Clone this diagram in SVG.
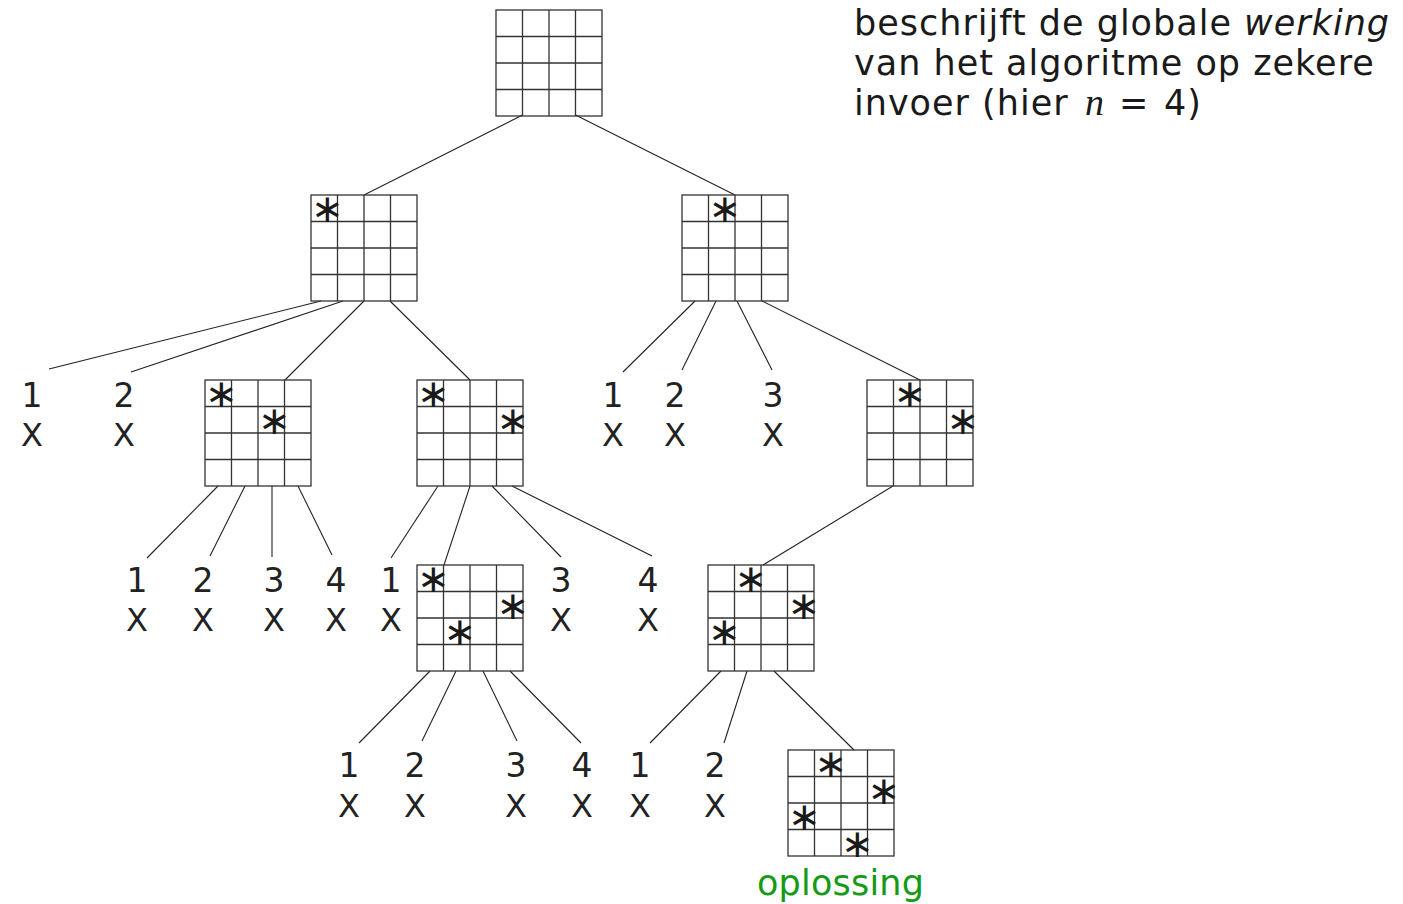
<svg xmlns="http://www.w3.org/2000/svg" xmlns:xlink="http://www.w3.org/1999/xlink" width="1403" height="904" viewBox="0 0 1403 904">
  <style>
    .grid { fill: none; stroke: #333; stroke-width: 1.3; }
    .edge { stroke: #222; stroke-width: 1.1; fill: none; }
    .q { font-family: "DejaVu Sans", sans-serif; font-size: 39px; text-anchor: middle; fill: #1a1a1a; }
    .num { font-family: "DejaVu Sans", sans-serif; font-size: 33px; text-anchor: middle; fill: #222; }
    .x { font-family: "DejaVu Sans", sans-serif; font-size: 32px; text-anchor: middle; fill: #222; }
    .note { font-family: "DejaVu Sans", sans-serif; font-size: 35px; letter-spacing: 1px; fill: #1a1a1a; }
    .sol { font-family: "DejaVu Sans", sans-serif; font-size: 35px; letter-spacing: 0.2px; fill: #159a15; }
  </style>
  <defs>
    <!-- empty 4x4 board, 106 px square -->
    <g id="board">
      <rect class="grid" x="0" y="0" width="106" height="106"/>
      <path class="grid" d="M26.5 0V106M53 0V106M79.5 0V106M0 26.5H106M0 53H106M0 79.5H106"/>
    </g>
  </defs>

  <rect width="1403" height="904" fill="#fff"/>

  <!-- caption -->
  <g id="caption">
    <text class="note" x="854" y="35">beschrijft de globale <tspan font-style="italic">werking</tspan></text>
    <text class="note" x="854" y="75">van het algoritme op zekere</text>
    <text class="note" x="854" y="115">invoer (hier <tspan x="1085" font-family="Liberation Serif, serif" font-style="italic" font-size="38px">n</tspan><tspan x="1119">=</tspan><tspan x="1164">4)</tspan></text>
  </g>

  <!-- connectors -->
  <g id="edges" class="edge">
    <line x1="522.5" y1="115" x2="364" y2="195"/>
    <line x1="575.5" y1="115" x2="735" y2="195"/>
    <line x1="321" y1="301" x2="49" y2="369"/>
    <line x1="343" y1="301" x2="131" y2="372"/>
    <line x1="364" y1="301" x2="285" y2="380"/>
    <line x1="390" y1="301" x2="470" y2="380"/>
    <line x1="695" y1="301" x2="623" y2="372"/>
    <line x1="716" y1="301" x2="682" y2="370"/>
    <line x1="737" y1="301" x2="772" y2="370"/>
    <line x1="762" y1="301" x2="920" y2="380"/>
    <line x1="218" y1="486" x2="147" y2="558"/>
    <line x1="245" y1="486" x2="210" y2="556"/>
    <line x1="272" y1="486" x2="272" y2="557"/>
    <line x1="298" y1="486" x2="332" y2="555"/>
    <line x1="438" y1="486" x2="391" y2="558"/>
    <line x1="470" y1="486" x2="444" y2="565"/>
    <line x1="492" y1="486" x2="561" y2="557"/>
    <line x1="512" y1="486" x2="652" y2="556"/>
    <line x1="893" y1="486" x2="763" y2="565"/>
    <line x1="430" y1="671" x2="359" y2="743"/>
    <line x1="456" y1="671" x2="422" y2="741"/>
    <line x1="483" y1="671" x2="517" y2="741"/>
    <line x1="510" y1="671" x2="581" y2="743"/>
    <line x1="721" y1="671" x2="650" y2="743"/>
    <line x1="747" y1="671" x2="724" y2="743"/>
    <line x1="774" y1="671" x2="854" y2="750"/>
  </g>

  <!-- boards; queen marks sit at cell centre + (3,2) -->
  <g id="b0"><use href="#board" x="496" y="10"/></g>
  <g id="b1"><use href="#board" x="311" y="195"/>
    <text class="q" x="327.3" y="222">∗</text></g>
  <g id="b2"><use href="#board" x="682" y="195"/>
    <text class="q" x="724.8" y="222">∗</text></g>
  <g id="b3"><use href="#board" x="205" y="380"/>
    <text class="q" x="221.3" y="407">∗</text>
    <text class="q" x="274.3" y="433.5">∗</text></g>
  <g id="b4"><use href="#board" x="417" y="380"/>
    <text class="q" x="433.3" y="407">∗</text>
    <text class="q" x="512.8" y="433.5">∗</text></g>
  <g id="b5"><use href="#board" x="867" y="380"/>
    <text class="q" x="909.8" y="407">∗</text>
    <text class="q" x="962.8" y="433.5">∗</text></g>
  <g id="b6"><use href="#board" x="417" y="565"/>
    <text class="q" x="433.3" y="592">∗</text>
    <text class="q" x="512.8" y="618.5">∗</text>
    <text class="q" x="459.8" y="645">∗</text></g>
  <g id="b7"><use href="#board" x="708" y="565"/>
    <text class="q" x="750.8" y="592">∗</text>
    <text class="q" x="803.8" y="618.5">∗</text>
    <text class="q" x="724.3" y="645">∗</text></g>
  <g id="b8"><use href="#board" x="788" y="750"/>
    <text class="q" x="830.8" y="777">∗</text>
    <text class="q" x="883.8" y="803.5">∗</text>
    <text class="q" x="804.3" y="830">∗</text>
    <text class="q" x="857.3" y="856.5">∗</text>
    <text class="sol" x="757" y="895">oplossing</text></g>

  <!-- dead ends: column tried, square attacked -->
  <g id="d1a"><text class="num" x="32" y="407">1</text><text class="x" x="32" y="446">X</text></g>
  <g id="d1b"><text class="num" x="124" y="407">2</text><text class="x" x="124" y="446">X</text></g>
  <g id="d2a"><text class="num" x="613" y="407">1</text><text class="x" x="613" y="446">X</text></g>
  <g id="d2b"><text class="num" x="675" y="407">2</text><text class="x" x="675" y="446">X</text></g>
  <g id="d2c"><text class="num" x="773" y="407">3</text><text class="x" x="773" y="446">X</text></g>

  <g id="d3a"><text class="num" x="137" y="592">1</text><text class="x" x="137" y="631">X</text></g>
  <g id="d3b"><text class="num" x="203" y="592">2</text><text class="x" x="203" y="631">X</text></g>
  <g id="d3c"><text class="num" x="274" y="592">3</text><text class="x" x="274" y="631">X</text></g>
  <g id="d3d"><text class="num" x="336" y="592">4</text><text class="x" x="336" y="631">X</text></g>
  <g id="d4a"><text class="num" x="391" y="592">1</text><text class="x" x="391" y="631">X</text></g>
  <g id="d4c"><text class="num" x="561" y="592">3</text><text class="x" x="561" y="631">X</text></g>
  <g id="d4d"><text class="num" x="648" y="592">4</text><text class="x" x="648" y="631">X</text></g>

  <g id="d6a"><text class="num" x="349" y="777">1</text><text class="x" x="349" y="817">X</text></g>
  <g id="d6b"><text class="num" x="415" y="777">2</text><text class="x" x="415" y="817">X</text></g>
  <g id="d6c"><text class="num" x="516" y="777">3</text><text class="x" x="516" y="817">X</text></g>
  <g id="d6d"><text class="num" x="582" y="777">4</text><text class="x" x="582" y="817">X</text></g>
  <g id="d7a"><text class="num" x="640" y="777">1</text><text class="x" x="640" y="817">X</text></g>
  <g id="d7b"><text class="num" x="715" y="777">2</text><text class="x" x="715" y="817">X</text></g>
</svg>
